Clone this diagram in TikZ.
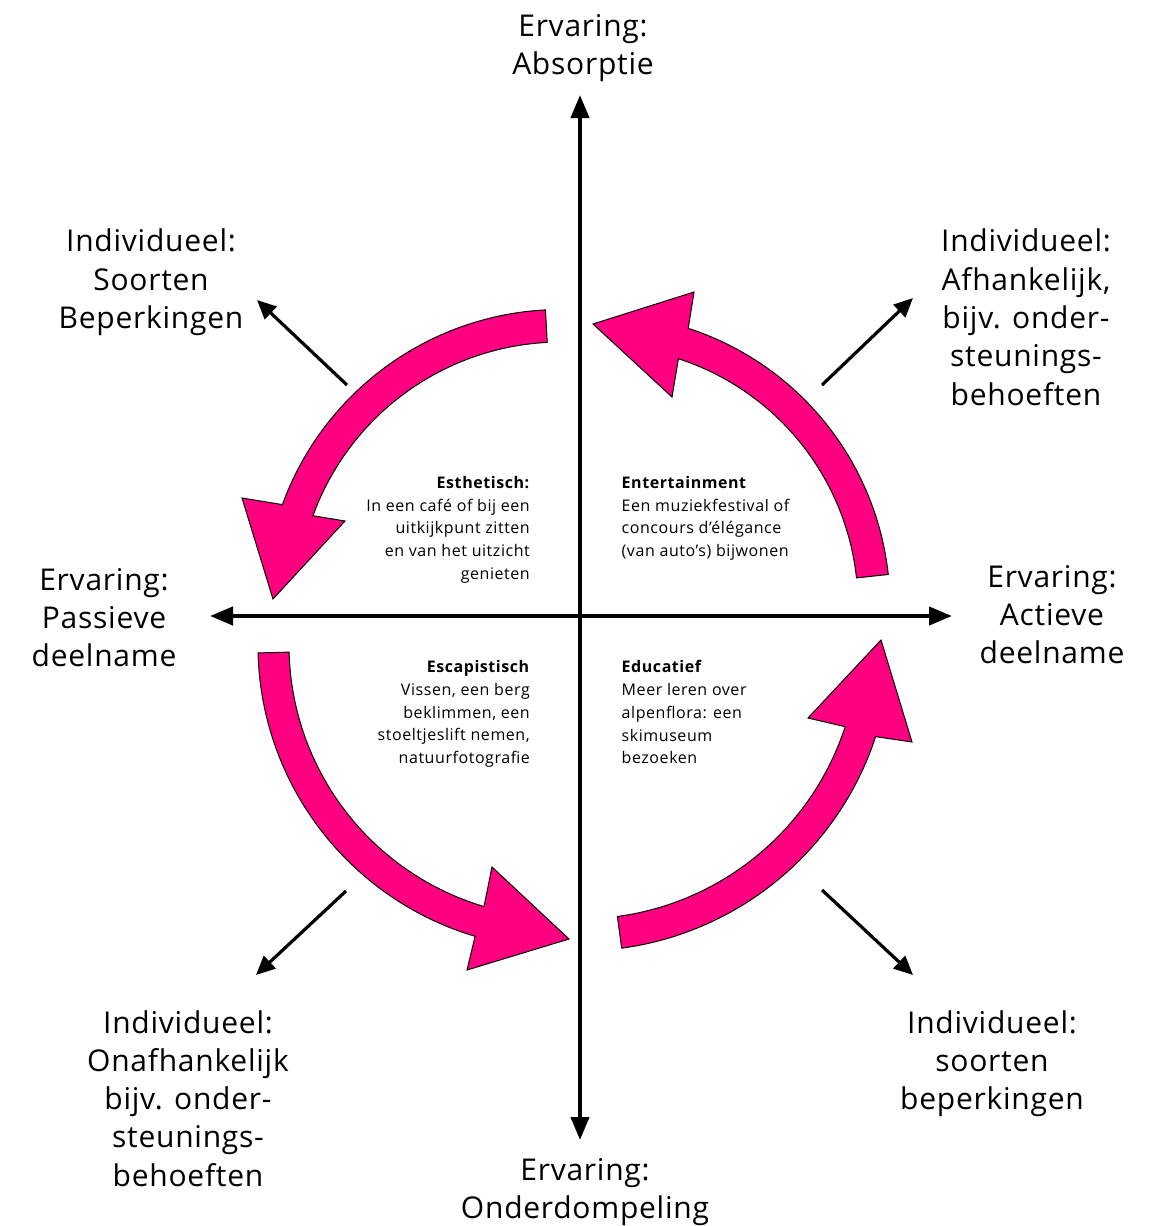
\documentclass[tikz,border=0pt]{standalone}
\usepackage{fontspec}
\setmainfont{Open Sans}
\usetikzlibrary{arrows.meta}
\definecolor{pinkarrow}{HTML}{FF0080}
\begin{document}
\begin{tikzpicture}[x=1pt,y=1pt,
  biglabel/.style={font=\fontsize{30}{38.3}\selectfont\addfontfeature{LetterSpace=2.5}, align=center, inner sep=0pt, anchor=north},
  smallright/.style={font=\fontsize{16}{22.7}\selectfont\addfontfeature{LetterSpace=3.5}, align=right, inner sep=0pt, anchor=north east},
  smallleft/.style={font=\fontsize{16}{22.7}\selectfont\addfontfeature{LetterSpace=3.5}, align=left, inner sep=0pt, anchor=north west},
  axisline/.style={line width=4pt, {Triangle[length=23pt,width=18pt]}-{Triangle[length=23pt,width=18pt]}},
  diagarrow/.style={line width=3.2pt, -{Triangle[length=19pt,width=17pt]}},
  bigarrow/.style={fill=pinkarrow, draw=black, line width=1pt, line join=miter}
]
\useasboundingbox (0,0) rectangle (1158,-1226);
\fill[white] (0,0) rectangle (1158,-1226);

% axes
\coordinate (axtop) at (580,-95);
\coordinate (axbot) at (580,-1140);
\coordinate (axleft) at (210,-616);
\coordinate (axright) at (952,-616);
\draw[axisline] (axbot) -- (axtop);
\draw[axisline] (axleft) -- (axright);

% diagonal arrows
\coordinate (tls) at (347,-385); \coordinate (tle) at (257,-300);
\coordinate (trs) at (822,-385); \coordinate (tre) at (913,-298);
\coordinate (bls) at (346,-891); \coordinate (ble) at (256,-975);
\coordinate (brs) at (822,-890); \coordinate (bre) at (913,-975);
\draw[diagarrow] (tls) -- (tle);
\draw[diagarrow] (trs) -- (tre);
\draw[diagarrow] (bls) -- (ble);
\draw[diagarrow] (brs) -- (bre);

% curved pink arrows
\draw[bigarrow] (856.5,-577.9) arc[start angle=6.2, end angle=72, radius=260]
  -- (672,-397) -- (593,-324) -- (694,-292) -- (688.2,-328.3)
  arc[start angle=72, end angle=6.2, radius=292] -- cycle;
\draw[bigarrow] (547.2,-342.4) arc[start angle=93, end angle=160, radius=264]
  -- (345,-521) -- (273,-599) -- (242,-498) -- (282.4,-504.6)
  arc[start angle=160, end angle=93, radius=296.5] -- cycle;
\draw[bigarrow] (289.1,-652.1) arc[start angle=181.5, end angle=253.4, radius=273]
  -- (492,-867) -- (569,-939) -- (467,-970) -- (475.1,-936.3)
  arc[start angle=253.4, end angle=181.5, radius=304] -- cycle;
\draw[bigarrow] (617.4,-916.5) arc[start angle=277.7, end angle=341.9, radius=279]
  -- (808,-718) -- (881,-640) -- (912,-742) -- (875.6,-736.6)
  arc[start angle=341.9, end angle=277.7, radius=311] -- cycle;

% axis labels
\node[biglabel] (absorptie) at (583,-14) {Ervaring:\\Absorptie};
\node[biglabel] (onderdompeling) at (585,-1158) {Ervaring:\\Onderdompeling};
\node[biglabel] (passief) at (104,-568) {Ervaring:\\Passieve\\deelname};
\node[biglabel] (actief) at (1052,-565) {Ervaring:\\Actieve\\deelname};

% individual labels
\node[biglabel] (indtl) at (151,-229) {Individueel:\\Soorten\\Beperkingen};
\node[biglabel] (indtr) at (1026,-229) {Individueel:\\Afhankelijk,\\bijv. onder-\\steunings-\\behoeften};
\node[biglabel] (indbl) at (188,-1010) {Individueel:\\Onafhankelijk\\bijv. onder-\\steunings-\\behoeften};
\node[biglabel] (indbr) at (992,-1010) {Individueel:\\soorten\\beperkingen};

% quadrant texts
\node[smallright] (esthetisch) at (530,-476) {\textbf{Esthetisch:}\\In een café of bij een\\uitkijkpunt zitten\\en van het uitzicht\\genieten};
\node[smallleft] (entertainment) at (621.5,-476) {\textbf{Entertainment}\\Een muziekfestival of\\concours d’élégance\\(van auto’s) bijwonen};
\node[smallright] (escapistisch) at (530,-660.5) {\textbf{Escapistisch}\\Vissen, een berg\\beklimmen, een\\stoeltjeslift nemen,\\natuurfotografie};
\node[smallleft] (educatief) at (621.5,-660.5) {\textbf{Educatief}\\Meer leren over\\alpenflora: een\\skimuseum\\bezoeken};
\end{tikzpicture}
\end{document}
